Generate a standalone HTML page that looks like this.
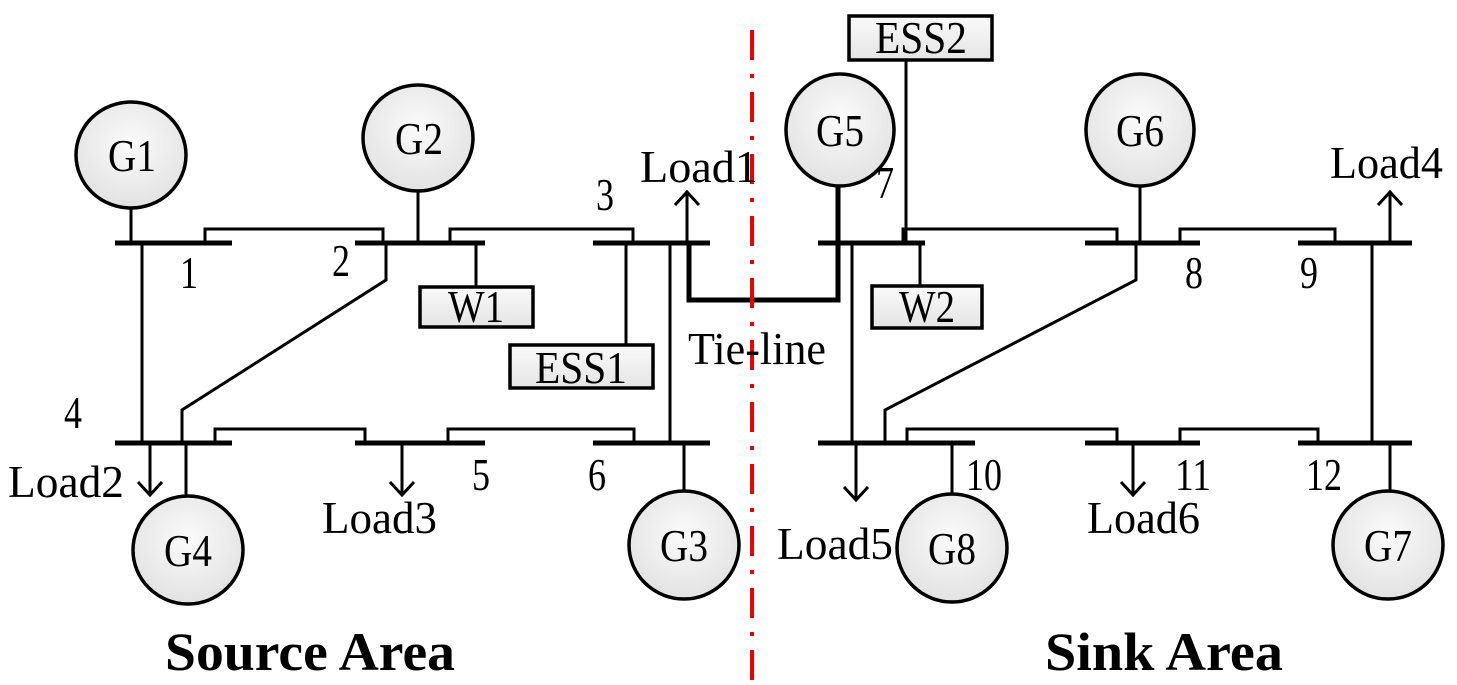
<!DOCTYPE html>
<html><head><meta charset="utf-8"><style>
html,body{margin:0;padding:0;background:#fff;}
svg{display:block;}
text{font-family:"Liberation Serif",serif;fill:#000;}
</style></head><body>
<svg width="1457" height="685" viewBox="0 0 1457 685" xmlns="http://www.w3.org/2000/svg">
<defs>
<radialGradient id="g" cx="50%" cy="40%" r="60%"><stop offset="0" stop-color="#fbfbfb"/><stop offset="1" stop-color="#e2e2e2"/></radialGradient>
<linearGradient id="b" x1="0" y1="0" x2="0" y2="1"><stop offset="0" stop-color="#fafafa"/><stop offset="1" stop-color="#e4e4e4"/></linearGradient>
</defs>
<g stroke="#000" fill="none">
<g stroke-width="5">
<line x1="115" y1="243" x2="232" y2="243"/><line x1="355" y1="243" x2="485" y2="243"/><line x1="593" y1="243" x2="710" y2="243"/>
<line x1="115" y1="443" x2="232" y2="443"/><line x1="355" y1="443" x2="485" y2="443"/><line x1="593" y1="443" x2="710" y2="443"/>
<line x1="818" y1="243" x2="925" y2="243"/><line x1="1085" y1="243" x2="1200" y2="243"/><line x1="1298" y1="243" x2="1412" y2="243"/>
<line x1="818" y1="443" x2="975" y2="443"/><line x1="1085" y1="443" x2="1200" y2="443"/><line x1="1298" y1="443" x2="1412" y2="443"/>
</g>
<g stroke-width="3">
<polyline points="205,243 205,229 383,229 383,243"/>
<polyline points="450,243 450,229 633,229 633,243"/>
<polyline points="215,443 215,429 365,429 365,443"/>
<polyline points="448,443 448,429 634,429 634,443"/>
<polyline points="903,243 903,229 1117,229 1117,243"/>
<polyline points="1180,243 1180,229 1335,229 1335,243"/>
<polyline points="907,443 907,429 1117,429 1117,443"/>
<polyline points="1180,443 1180,429 1318,429 1318,443"/>
<line x1="142" y1="243" x2="142" y2="443"/>
<polyline points="386,243 386,280 182,410 182,443"/>
<line x1="670" y1="243" x2="670" y2="443"/>
<line x1="852" y1="243" x2="852" y2="443"/>
<polyline points="1136,243 1136,280 885,410 885,443"/>
<line x1="1372" y1="243" x2="1372" y2="443"/>
<line x1="131" y1="205" x2="131" y2="243"/>
<line x1="418" y1="188" x2="418" y2="243"/>
<line x1="476" y1="243" x2="476" y2="287"/>
<line x1="626" y1="243" x2="626" y2="345"/>
<line x1="186" y1="443" x2="186" y2="498"/>
<line x1="684" y1="443" x2="684" y2="495"/>
<line x1="906" y1="60" x2="906" y2="243"/>
<line x1="1140" y1="185" x2="1140" y2="243"/>
<line x1="920" y1="243" x2="920" y2="286"/>
<line x1="952" y1="443" x2="952" y2="495"/>
<line x1="1390" y1="443" x2="1390" y2="495"/>
<line x1="687" y1="243" x2="687" y2="192"/><polyline points="675,205 687,192 699,205"/>
<line x1="1390" y1="243" x2="1390" y2="192"/><polyline points="1378,205 1390,192 1402,205"/>
<line x1="150" y1="443" x2="150" y2="495"/><polyline points="138,482 150,495 162,482"/>
<line x1="402" y1="443" x2="402" y2="495"/><polyline points="390,482 402,495 414,482"/>
<line x1="856" y1="443" x2="856" y2="500"/><polyline points="844,487 856,500 868,487"/>
<line x1="1133" y1="443" x2="1133" y2="495"/><polyline points="1121,482 1133,495 1145,482"/>
</g>
<polyline points="689,243 689,300 838,300 838,185" stroke-width="5"/>
<g stroke-width="3.5" fill="url(#g)">
<ellipse cx="131" cy="155" rx="55" ry="53"/>
<ellipse cx="418" cy="138" rx="55" ry="53"/>
<ellipse cx="188" cy="550" rx="55" ry="54"/>
<ellipse cx="684" cy="545" rx="55" ry="54"/>
<ellipse cx="840" cy="130" rx="54" ry="56"/>
<ellipse cx="1140" cy="130" rx="54" ry="56"/>
<ellipse cx="952" cy="548" rx="55" ry="54"/>
<ellipse cx="1388" cy="545" rx="55" ry="54"/>
</g>
<g stroke-width="3.5" fill="url(#b)">
<rect x="420" y="287" width="113" height="40"/>
<rect x="510" y="345" width="143" height="43"/>
<rect x="849" y="16" width="143" height="44"/>
<rect x="872" y="286" width="110" height="42"/>
</g>
</g>
<path d="M752 30 V685" stroke="#e00" stroke-width="4" stroke-dasharray="30,14,4,14"/>
<g font-size="46" lengthAdjust="spacingAndGlyphs">
<text x="108" y="171" textLength="48" lengthAdjust="spacingAndGlyphs">G1</text>
<text x="395" y="154" textLength="48" lengthAdjust="spacingAndGlyphs">G2</text>
<text x="164" y="566" textLength="48" lengthAdjust="spacingAndGlyphs">G4</text>
<text x="660" y="561" textLength="48" lengthAdjust="spacingAndGlyphs">G3</text>
<text x="816" y="146" textLength="48" lengthAdjust="spacingAndGlyphs">G5</text>
<text x="1116" y="146" textLength="48" lengthAdjust="spacingAndGlyphs">G6</text>
<text x="928" y="564" textLength="48" lengthAdjust="spacingAndGlyphs">G8</text>
<text x="1364" y="561" textLength="48" lengthAdjust="spacingAndGlyphs">G7</text>
<text x="448" y="322" textLength="56" lengthAdjust="spacingAndGlyphs">W1</text>
<text x="535" y="383" textLength="92" lengthAdjust="spacingAndGlyphs">ESS1</text>
<text x="875" y="53" textLength="92" lengthAdjust="spacingAndGlyphs">ESS2</text>
<text x="899" y="322" textLength="56" lengthAdjust="spacingAndGlyphs">W2</text>
<text x="180" y="288" textLength="18" lengthAdjust="spacingAndGlyphs">1</text>
<text x="332" y="276" textLength="18" lengthAdjust="spacingAndGlyphs">2</text>
<text x="596" y="210" textLength="18" lengthAdjust="spacingAndGlyphs">3</text>
<text x="64" y="428" textLength="18" lengthAdjust="spacingAndGlyphs">4</text>
<text x="472" y="490" textLength="18" lengthAdjust="spacingAndGlyphs">5</text>
<text x="588" y="490" textLength="18" lengthAdjust="spacingAndGlyphs">6</text>
<text x="876" y="198" textLength="18" lengthAdjust="spacingAndGlyphs">7</text>
<text x="1185" y="288" textLength="18" lengthAdjust="spacingAndGlyphs">8</text>
<text x="1300" y="288" textLength="18" lengthAdjust="spacingAndGlyphs">9</text>
<text x="966" y="490" textLength="36" lengthAdjust="spacingAndGlyphs">10</text>
<text x="1175" y="490" textLength="36" lengthAdjust="spacingAndGlyphs">11</text>
<text x="1306" y="490" textLength="36" lengthAdjust="spacingAndGlyphs">12</text>
<text x="640" y="182" textLength="118" lengthAdjust="spacingAndGlyphs">Load1</text>
<text x="1330" y="178" textLength="113" lengthAdjust="spacingAndGlyphs">Load4</text>
<text x="8" y="497" textLength="116" lengthAdjust="spacingAndGlyphs">Load2</text>
<text x="322" y="533" textLength="115" lengthAdjust="spacingAndGlyphs">Load3</text>
<text x="777" y="559" textLength="116" lengthAdjust="spacingAndGlyphs">Load5</text>
<text x="1087" y="533" textLength="113" lengthAdjust="spacingAndGlyphs">Load6</text>
<text x="688" y="364" textLength="138" lengthAdjust="spacingAndGlyphs">Tie-line</text>
</g>
<g font-size="54" font-weight="bold">
<text x="165" y="670" textLength="290" lengthAdjust="spacingAndGlyphs">Source Area</text>
<text x="1045" y="670" textLength="238" lengthAdjust="spacingAndGlyphs">Sink Area</text>
</g>
</svg>
</body></html>
